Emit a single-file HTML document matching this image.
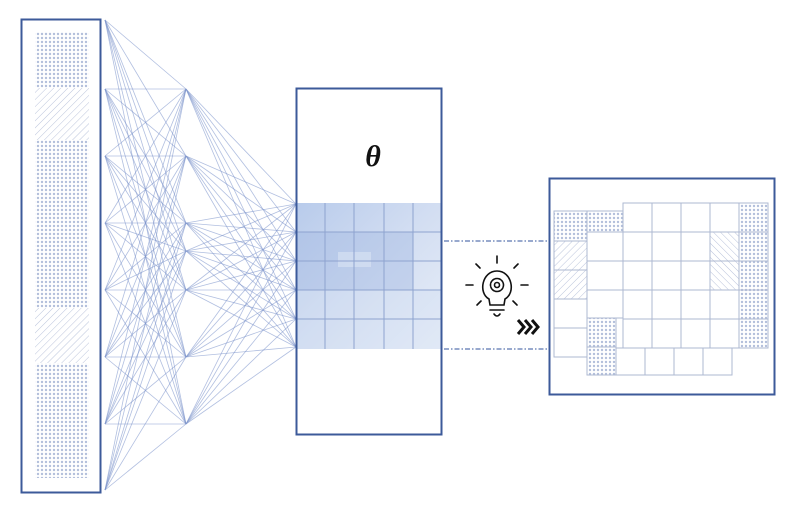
<!DOCTYPE html>
<html><head><meta charset="utf-8"><style>html,body{margin:0;padding:0;background:#fff}svg{display:block}</style></head>
<body>
<svg width="800" height="508" viewBox="0 0 800 508" xmlns="http://www.w3.org/2000/svg">
<defs>
<pattern id="dots" width="4" height="4" patternUnits="userSpaceOnUse"><rect width="4" height="4" fill="#fff"/><circle cx="2" cy="2" r="1.2" fill="#b3bfdb"/></pattern>
<pattern id="hatch" width="5" height="5" patternUnits="userSpaceOnUse" patternTransform="rotate(45)"><rect width="5" height="5" fill="#fff"/><line x1="0" y1="0" x2="0" y2="5" stroke="#bcc5dc" stroke-width="1"/></pattern>
<pattern id="hatch2" width="5" height="5" patternUnits="userSpaceOnUse" patternTransform="rotate(-45)"><rect width="5" height="5" fill="#fff"/><line x1="0" y1="0" x2="0" y2="5" stroke="#b9c2da" stroke-width="1"/></pattern>
<linearGradient id="bl" x1="0" y1="0" x2="1" y2="1"><stop offset="0" stop-color="#b8cbeb"/><stop offset="0.5" stop-color="#d3def2"/><stop offset="1" stop-color="#e8eef8"/></linearGradient>
</defs>

<rect x="35" y="32" width="54" height="446" fill="url(#dots)"/>
<rect x="35" y="88" width="54" height="52" fill="url(#hatch)"/>
<rect x="35" y="308" width="54" height="55" fill="url(#hatch)"/>
<rect x="21.5" y="19.5" width="79" height="473" fill="none" stroke="#3c5a9a" stroke-width="2"/>

<g id="net" stroke="#7d95cc" stroke-width="0.8" stroke-opacity="0.6"></g>

<rect x="296" y="203" width="146" height="146" fill="url(#bl)"/>
<rect x="296" y="232" width="117" height="58" fill="#9fb6e2" fill-opacity="0.4"/>
<rect x="338" y="252" width="33" height="15" fill="#dbe4f4" fill-opacity="0.6"/>
<rect x="296" y="290" width="146" height="59" fill="#d2ddf2" fill-opacity="0.3"/>
<g stroke="#8ea3cf" stroke-width="1" fill="none">
<line x1="325" y1="203" x2="325" y2="349"/><line x1="354" y1="203" x2="354" y2="349"/><line x1="384" y1="203" x2="384" y2="349"/><line x1="413" y1="203" x2="413" y2="349"/>
<line x1="296" y1="232" x2="442" y2="232"/><line x1="296" y1="261" x2="442" y2="261"/><line x1="296" y1="290" x2="442" y2="290"/><line x1="296" y1="319" x2="442" y2="319"/>
</g>
<rect x="296.5" y="88.5" width="145" height="346" fill="none" stroke="#3c5a9a" stroke-width="2"/>
<text x="373" y="166" font-family="Liberation Serif, serif" font-size="30" font-weight="bold" font-style="italic" text-anchor="middle" fill="#111">θ</text>

<g stroke="#5a76b0" stroke-width="1.2" stroke-dasharray="5,2,1.5,2">
<line x1="444" y1="241" x2="548" y2="241"/><line x1="444" y1="349" x2="548" y2="349"/>
</g>

<g stroke="#111" stroke-width="1.6" fill="none" stroke-linecap="round">
<path d="M489 299 C478 293 482 271 497 271 C512 271 516 293 505 299 L504 305 L490 305 Z"/>
<line x1="490" y1="310" x2="504" y2="310"/>
<path d="M494 314 Q497 318 500 314"/>
<line x1="497" y1="256" x2="497" y2="263"/>
<line x1="476" y1="264" x2="480" y2="268"/><line x1="518" y1="264" x2="514" y2="268"/>
<line x1="466" y1="285" x2="473" y2="285"/><line x1="521" y1="285" x2="528" y2="285"/>
<line x1="477" y1="305" x2="481" y2="301"/><line x1="517" y1="305" x2="513" y2="301"/>
<circle cx="497" cy="285" r="6.5" stroke-dasharray="2.2,1"/><circle cx="497" cy="285" r="2.5"/>
</g>
<g stroke="#111" stroke-width="3" fill="none" stroke-linejoin="miter">
<path d="M518 320 L524 327 L518 334"/><path d="M525 320 L531 327 L525 334"/><path d="M532 320 L538 327 L532 334"/>
</g>

<g stroke="#aeb8d2" stroke-width="1" fill="#fff">
<rect x="554" y="211" width="33" height="30" fill="url(#dots)"/>
<rect x="554" y="241" width="33" height="29" fill="url(#hatch)"/>
<rect x="554" y="270" width="33" height="29" fill="url(#hatch)"/>
<rect x="554" y="299" width="33" height="29"/>
<rect x="554" y="328" width="33" height="29"/>
<rect x="587" y="211" width="36" height="21" fill="url(#dots)"/>
<rect x="587" y="232" width="36" height="29"/>
<rect x="587" y="261" width="36" height="29"/>
<rect x="587" y="290" width="36" height="28"/>
<rect x="587" y="318" width="29" height="29" fill="url(#dots)"/>
<rect x="587" y="347" width="29" height="28" fill="url(#dots)"/>
<rect x="616" y="348" width="29" height="27"/><rect x="645" y="348" width="29" height="27"/><rect x="674" y="348" width="29" height="27"/><rect x="703" y="348" width="29" height="27"/>
</g>
<g stroke="#aeb8d2" stroke-width="1" fill="#fff" id="maingrid"></g>
<rect x="549.5" y="178.5" width="225" height="216" fill="none" stroke="#3c5a9a" stroke-width="2"/>
</svg>
<script>
var ns="http://www.w3.org/2000/svg";
var L=[20,89,156,223,290,357,424,490].map(function(y){return[105,y]});
var M=[89,156,223,251,290,357,424].map(function(y){return[186,y]});
var R=[204,232,261,290,319,347].map(function(y){return[296,y]});
var g=document.getElementById("net");
function ln(a,b){var l=document.createElementNS(ns,"line");l.setAttribute("x1",a[0]);l.setAttribute("y1",a[1]);l.setAttribute("x2",b[0]);l.setAttribute("y2",b[1]);g.appendChild(l);}
L.forEach(function(a){M.forEach(function(b){ln(a,b)})});
M.forEach(function(a){R.forEach(function(b){ln(a,b)})});
var mg=document.getElementById("maingrid");
var xs=[623,652,681,710,739],ys=[203,232,261,290,319];
ys.forEach(function(y,ri){xs.forEach(function(x,ci){var r=document.createElementNS(ns,"rect");r.setAttribute("x",x);r.setAttribute("y",y);r.setAttribute("width",29);r.setAttribute("height",29);
var f="#fff";if(ci==4)f="url(#dots)";if(ci==3&&(ri==1||ri==2))f="url(#hatch2)";r.setAttribute("fill",f);mg.appendChild(r);});});
</script>
</body></html>
